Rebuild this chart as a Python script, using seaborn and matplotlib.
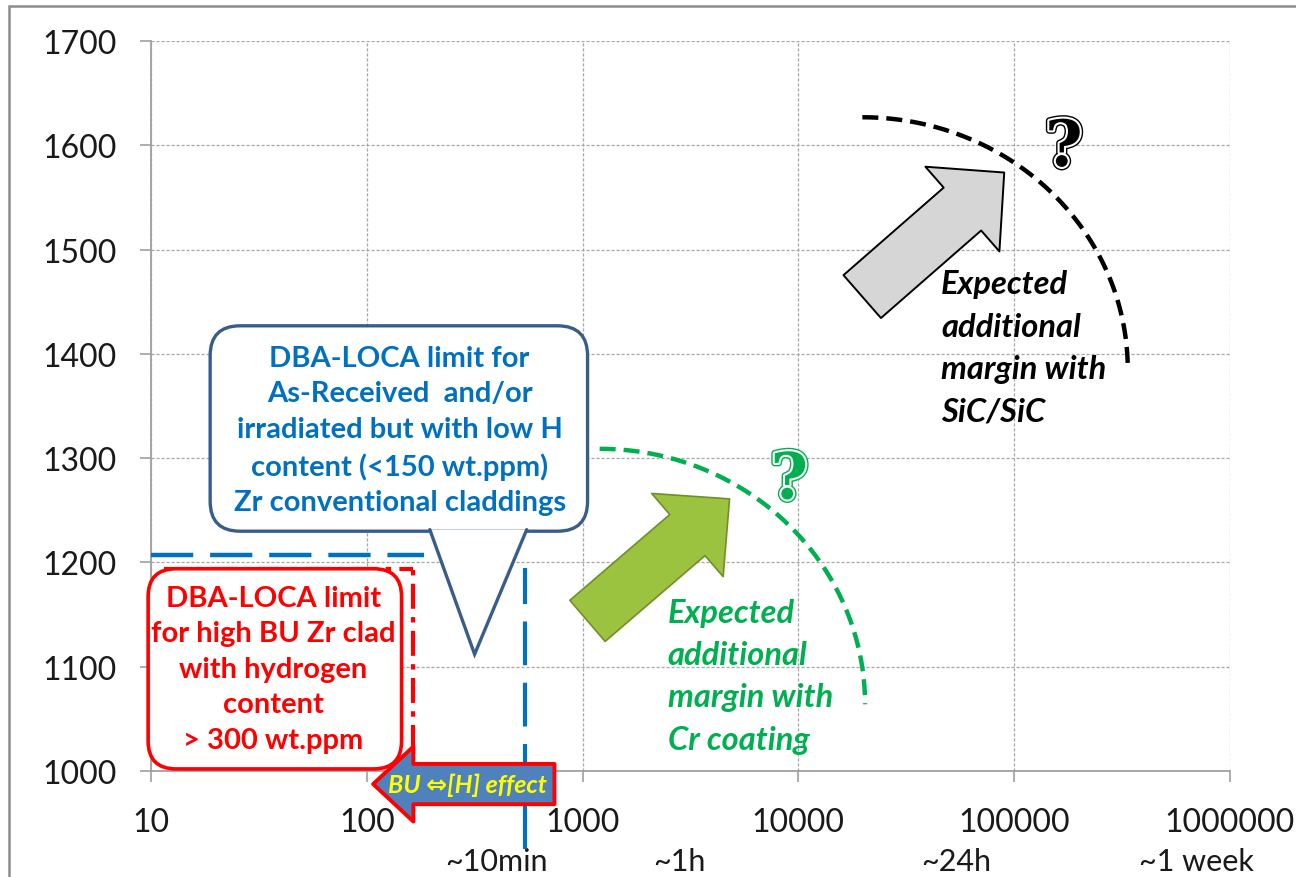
import numpy as np
import pandas as pd
import matplotlib.pyplot as plt
import matplotlib.patches as mpatches
import matplotlib.patheffects as pe
from matplotlib.ticker import FixedLocator, FixedFormatter, NullLocator
import seaborn as sns

# --- Axis ticks ---
time_ticks = [10, 100, 1000, 10000, 100000, 1000000]
temp_ticks = [1000, 1100, 1200, 1300, 1400, 1500, 1600, 1700]
time_names = ["~10min", "~1h", "~24h", "~1 week"]
time_name_pos = [400, 2800, 54000, 700000]

# --- Limits (time in s, temperature in degC) ---
asr_limit_time = [10, 185]
asr_limit_temp = [1207, 1207]
asr_cut_time = [540, 540]
asr_cut_temp = [925, 1195]
hbu_limit_time = [11.5, 163]
hbu_limit_temp = [1194, 1194]
hbu_cut_time = [163, 163]
hbu_cut_temp = [1020, 1194]

# --- Margin arcs: centre time, centre temp, half-width (decades), half-height (degC) ---
cr_arc = [1200, 1064, 1.23, 245]
sic_arc = [19800, 1385, 1.23, 242]

# --- Block arrows: [time, temp] ---
cr_arrow_tail = [1054, 1144]
cr_arrow_head = [4800, 1261]
sic_arrow_tail = [19770, 1455]
sic_arrow_head = [90000, 1574]
bu_arrow_tail = [741, 987.5]
bu_arrow_head = [107, 987.5]

# --- Text ---
asr_text = ("DBA-LOCA limit for\nAs-Received  and/or\nirradiated but with low H\n"
            "content (<150 wt.ppm)\nZr conventional claddings")
hbu_text = "DBA-LOCA limit\nfor high BU Zr clad\nwith hydrogen\ncontent\n> 300 wt.ppm"
cr_text = "Expected\nadditional\nmargin with\nCr coating"
sic_text = "Expected\nadditional\nmargin with\nSiC/SiC"
bu_text = "BU \u21d4[H] effect"

BLUE = "#0070c0"
RED = "#ff0000"
GREEN = "#00b050"


def arc_frame(spec):
    cx, cy, rx, ry = spec
    a = np.radians(np.linspace(90, 0, 90))
    return pd.DataFrame({"time": 10 ** (np.log10(cx) + rx * np.cos(a)),
                         "temp": cy + ry * np.sin(a)})


def to_axes(ax, pt):
    return ax.transAxes.inverted().transform(ax.transData.transform(pt))


def round_box(ax, p0, p1, radius_px, **kw):
    (x0, y0), (x1, y1) = to_axes(ax, p0), to_axes(ax, p1)
    bb = ax.get_window_extent()
    aspect = bb.width / bb.height
    box = mpatches.FancyBboxPatch(
        (min(x0, x1), min(y0, y1)), abs(x1 - x0), abs(y1 - y0),
        boxstyle=f"round,pad=0,rounding_size={radius_px / bb.width}",
        mutation_aspect=aspect, transform=ax.transAxes, **kw)
    ax.add_patch(box)
    return box


def block_arrow(ax, tail, head, tail_w, head_w, head_l, **kw):
    arr = mpatches.FancyArrowPatch(
        tail, head, arrowstyle=f"simple,head_length={head_l},head_width={head_w},tail_width={tail_w}",
        mutation_scale=1, shrinkA=0, shrinkB=0, **kw)
    ax.add_patch(arr)
    return arr


sns.set_theme(style="whitegrid")
plt.rcParams["font.family"] = ["Lato", "DejaVu Sans"]

fig, ax = plt.subplots(figsize=(12.96, 8.78), dpi=100)
fig.subplots_adjust(left=0.1165, right=0.949, bottom=0.1207, top=0.952)

ax.set_xscale("log")
ax.set_xlim(10, 1000000)
ax.set_ylim(1000, 1700)
ax.xaxis.set_major_locator(FixedLocator(time_ticks))
ax.xaxis.set_major_formatter(FixedFormatter([str(t) for t in time_ticks]))
ax.xaxis.set_minor_locator(NullLocator())
ax.yaxis.set_major_locator(FixedLocator(temp_ticks))
ax.yaxis.set_major_formatter(FixedFormatter([str(t) for t in temp_ticks]))

ax.grid(True, color="#a6a6a6", linestyle=(0, (2.5, 1.5)), linewidth=0.9)
sns.despine(ax=ax, top=True, right=True)
for side in ("left", "bottom"):
    ax.spines[side].set_color("#a0a0a0")
    ax.spines[side].set_linewidth(1.3)
ax.tick_params(axis="both", which="major", bottom=True, left=True, length=8,
               width=1.2, color="#a0a0a0", labelsize=23, labelcolor="#1a1a1a")
ax.tick_params(axis="y", pad=17)
ax.tick_params(axis="x", pad=18)

# secondary time labels
for name, pos in zip(time_names, time_name_pos):
    ax.text(pos, 914, name, ha="center", va="center", fontsize=22,
            color="#1a1a1a", clip_on=False)

# --- limit lines ---
sns.lineplot(x=asr_limit_time, y=asr_limit_temp, ax=ax, estimator=None, sort=False,
             color=BLUE, lw=3.2, linestyle=(0, (9.5, 3.8)), zorder=4)
sns.lineplot(x=asr_cut_time, y=asr_cut_temp, ax=ax, estimator=None, sort=False,
             color=BLUE, lw=3.0, linestyle=(0, (10.5, 4.2)), zorder=4, clip_on=False)
sns.lineplot(x=hbu_limit_time, y=hbu_limit_temp, ax=ax, estimator=None, sort=False,
             color=RED, lw=3.0, linestyle=(0, (6, 2, 1.3, 2)), zorder=4)
sns.lineplot(x=hbu_cut_time, y=hbu_cut_temp, ax=ax, estimator=None, sort=False,
             color=RED, lw=3.0, linestyle=(0, (6, 2, 1.3, 2)), zorder=4)

# --- margin arcs ---
cr_df = arc_frame(cr_arc)
sic_df = arc_frame(sic_arc)
sns.lineplot(data=cr_df, x="time", y="temp", ax=ax, estimator=None, sort=False,
             color=GREEN, lw=3.2, linestyle=(0, (3.6, 1.8)), zorder=4)
sns.lineplot(data=sic_df, x="time", y="temp", ax=ax, estimator=None, sort=False,
             color="black", lw=3.2, linestyle=(0, (3.6, 1.8)), zorder=4)

ax.set_xlabel("")
ax.set_ylabel("")

# --- boxes ---
round_box(ax, (9.7, 1002), (145, 1194), 28, facecolor="white", edgecolor=RED,
          linewidth=2.6, zorder=5, clip_on=False)
ax.text(37, 1098, hbu_text, ha="center", va="center", fontsize=21,
        fontweight="bold", color=RED, linespacing=1.45, zorder=6)

round_box(ax, (18.8, 1230), (1055, 1427), 30, facecolor="white", edgecolor="#385d8a",
          linewidth=2.4, zorder=5)
tail_pts = [to_axes(ax, p) for p in [(196, 1231.5), (316, 1112), (551, 1231.5)]]
ax.add_patch(mpatches.Polygon(tail_pts, closed=True, facecolor="white", edgecolor="none",
                              transform=ax.transAxes, zorder=5.5))
ax.add_line(plt.Line2D([p[0] for p in tail_pts], [p[1] for p in tail_pts],
                       transform=ax.transAxes, color="#385d8a", lw=2.4, zorder=5.6,
                       solid_joinstyle="miter"))
ax.text(142, 1327, asr_text, ha="center", va="center", fontsize=21,
        fontweight="bold", color=BLUE, linespacing=1.45, zorder=6)

# --- block arrows ---
block_arrow(ax, cr_arrow_tail, cr_arrow_head, 39, 79, 40,
            facecolor="#9cc33f", edgecolor="#6f8f2a", linewidth=1.2, zorder=4)
block_arrow(ax, sic_arrow_tail, sic_arrow_head, 41, 81, 40,
            facecolor="#d6d6d6", edgecolor="black", linewidth=1.4, zorder=4)
block_arrow(ax, bu_arrow_tail, bu_arrow_head, 29, 54, 29,
            facecolor="#4f81bd", edgecolor=RED, linewidth=2.8, zorder=6, clip_on=False)
ax.text(292, 987.5, bu_text, ha="center", va="center", fontsize=18,
        fontweight="bold", fontstyle="italic", color="#ffff00", zorder=7, clip_on=False)

# --- margin captions ---
ax.text(2480, 1166, cr_text, ha="left", va="top", fontsize=23.5, fontweight="bold",
        fontstyle="italic", color=GREEN, linespacing=1.55, zorder=6)
ax.text(45900, 1481, sic_text, ha="left", va="top", fontsize=23.5, fontweight="bold",
        fontstyle="italic", color="black", linespacing=1.55, zorder=6)

# --- question marks ---
ax.text(9080, 1278, "?", ha="center", va="center", fontsize=46, fontweight="bold",
        family="DejaVu Serif", color=GREEN, zorder=6,
        path_effects=[pe.Stroke(linewidth=5, foreground=GREEN),
                      pe.Stroke(linewidth=3, foreground="white"), pe.Normal()])
ax.text(170000, 1597, "?", ha="center", va="center", fontsize=46, fontweight="bold",
        family="DejaVu Serif", color="black", zorder=6,
        path_effects=[pe.Stroke(linewidth=5, foreground="black"),
                      pe.Stroke(linewidth=3, foreground="white"), pe.Normal()])

# outer frame
fig.patches.append(mpatches.Rectangle((0.007, -0.05), 1.1, 1.042, transform=fig.transFigure,
                                      fill=False, edgecolor="#8c8c8c", linewidth=1.8))

fig.savefig("out.png", dpi=100)
